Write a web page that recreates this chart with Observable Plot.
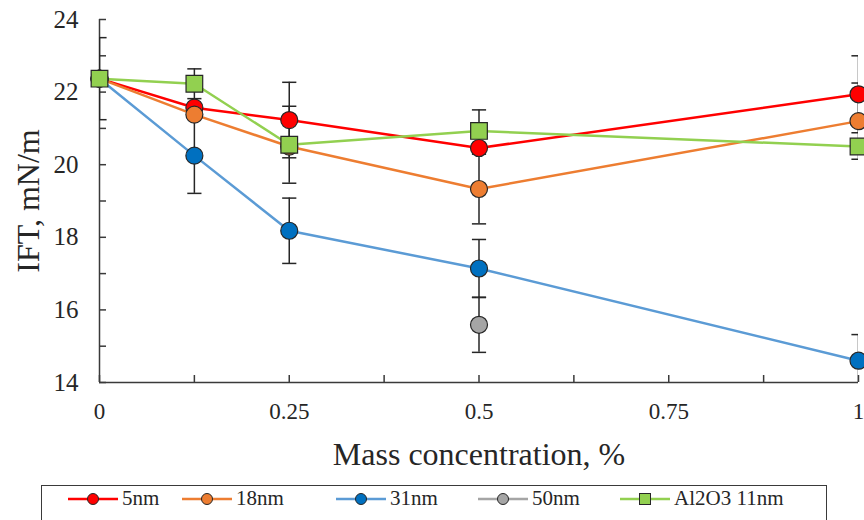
<!DOCTYPE html>
<html><head><meta charset="utf-8">
<script src="https://cdn.jsdelivr.net/npm/d3@7"></script>
<script src="https://cdn.jsdelivr.net/npm/@observablehq/plot@0.6"></script>
<style>
body{margin:0;background:#fff;width:864px;height:520px;overflow:hidden;position:relative;font-family:"Liberation Serif",serif;}
svg text{font-family:"Liberation Serif",serif !important;}
#legend{position:absolute;left:41px;top:485px;width:786px;height:60px;border:1.5px solid #3a3a3a;box-sizing:border-box;}
.item{position:absolute;top:0;height:25px;display:flex;align-items:center;font-size:21px;color:#262626;white-space:nowrap;}
.item svg{margin-right:4px;}
</style></head><body><div id="chart"></div><div id="legend"></div>
<script>
// ---- data ----
const conc = [0, 0.125, 0.25, 0.5, 1];
const seriesNames = ["5nm", "18nm", "31nm", "50nm", "Al2O3 11nm"];
const ift5  = [22.37, 21.57, 21.23, 20.46, 21.94];
const ift18 = [22.37, 21.38, 20.50, 19.33, 21.20];
const ift31 = [22.37, 20.25, 18.18, 17.14, 14.60];
const ift50 = [null, null, null, 15.59, null];
const iftAl = [22.37, 22.23, 20.55, 20.93, 20.50];
const err5  = [1.13, 0, 1.04, 0, 1.06];
const err18 = [0, 0, 0, 0.96, 1.05];
const err31 = [0, 1.04, 0.90, 0.80, 0.72];
const err50 = [null, null, null, 0.76, null];
const errAl = [0, 0.41, 1.06, 0.58, 0.10];
const lineColors = ["#FF0000", "#ED7D31", "#5B9BD5", "#A5A5A5", "#92D050"];
const fillColors = ["#FF0000", "#ED7D31", "#0070C0", "#A5A5A5", "#92D050"];
const symbols = ["circle", "circle", "circle", "circle", "square"];
const yTicks = [14, 15, 16, 17, 18, 19, 20, 21, 22, 23, 24];
const yLabels = [14, 16, 18, 20, 22, 24];
const xTicks = [0, 0.125, 0.25, 0.375, 0.5, 0.625, 0.75, 0.875, 1];
const xLabels = [0, 0.25, 0.5, 0.75, 1];
const xLabelText = ["0", "0.25", "0.5", "0.75", "1"];
const xTitle = "Mass concentration, %";
const yTitle = "IFT, mN/m";

const values = [ift5, ift18, ift31, ift50, iftAl];
const errs = [err5, err18, err31, err50, errAl];
const rows = [];
values.forEach((vals, si) => vals.forEach((v, j) => {
  if (v != null) rows.push({si, series: seriesNames[si], x: conc[j], y: v, err: errs[si][j] || 0});
}));
const errRows = rows.filter(d => d.err > 0);

const W = 864, H = 478, ML = 99, MR = 6, MT = 19, MB = 96;
const axisColor = "#3a3a3a";
const FF = "Liberation Serif";
const capSymbol = {draw(ctx, size) { const w = Math.sqrt(size); ctx.moveTo(-w, 0); ctx.lineTo(w, 0); }};

const chart = Plot.plot({
  width: W, height: H,
  marginLeft: ML, marginRight: MR, marginTop: MT, marginBottom: MB,
  style: {fontFamily: FF, background: "#fff", color: "#262626"},
  x: {domain: [0, 1]},
  y: {domain: [14, 24]},
  marks: [
    Plot.ruleX([0], {stroke: axisColor, strokeWidth: 1.5}),
    Plot.ruleY([14], {stroke: axisColor, strokeWidth: 1.5}),
    Plot.tickY(yTicks, {y: d => d, insetRight: W - ML - MR - 7, stroke: axisColor, strokeWidth: 1.5}),
    Plot.tickX(xTicks, {x: d => d, insetTop: H - MT - MB - 7, stroke: axisColor, strokeWidth: 1.5}),
    Plot.axisY(yLabels, {tickSize: 0, tickPadding: 21, fontSize: 25, fontFamily: FF, label: null}),
    Plot.axisX(xLabels, {tickSize: 0, tickPadding: 20, fontSize: 23, fontFamily: FF, tickFormat: d => xLabelText[xLabels.indexOf(d)], label: null}),
    Plot.text([xTitle], {frameAnchor: "bottom", dy: 72, text: d => d, fontSize: 32, fontFamily: FF, lineAnchor: "middle", textAnchor: "middle"}),
    Plot.text([yTitle], {frameAnchor: "left", dx: -71, rotate: -90, text: d => d, fontSize: 32, fontFamily: FF, lineAnchor: "middle", textAnchor: "middle"}),
    Plot.line(rows, {x: "x", y: "y", z: "series", stroke: d => lineColors[d.si], strokeWidth: 2.5}),
    Plot.ruleX(errRows, {x: "x", y1: d => d.y - d.err, y2: d => d.y + d.err, stroke: "#262626", strokeWidth: 1.5, clip: true}),
    Plot.dot(errRows, {x: "x", y: d => d.y + d.err, symbol: capSymbol, r: 4, stroke: "#262626", strokeWidth: 1.5, fill: "none", clip: true}),
    Plot.dot(errRows, {x: "x", y: d => d.y - d.err, symbol: capSymbol, r: 4, stroke: "#262626", strokeWidth: 1.5, fill: "none", clip: true}),
    Plot.dot(rows.filter(d => symbols[d.si] === "circle"), {x: "x", y: "y", r: 8.5, symbol: "circle", fill: d => fillColors[d.si], stroke: "#262626", strokeWidth: 1.2}),
    Plot.dot(rows.filter(d => symbols[d.si] === "square"), {x: "x", y: "y", r: 9.4, symbol: "square", fill: d => fillColors[d.si], stroke: "#262626", strokeWidth: 1.2})
  ]
});
document.getElementById("chart").appendChild(chart);

// ---- legend ----
const legendX = [26, 140, 294, 436, 578];
const legend = document.getElementById("legend");
seriesNames.forEach((name, i) => {
  const item = document.createElement("div");
  item.className = "item";
  item.style.left = legendX[i] + "px";
  const sw = d3.create("svg").attr("width", 50).attr("height", 20);
  sw.append("line").attr("x1", 0).attr("x2", 50).attr("y1", 10).attr("y2", 10).attr("stroke", lineColors[i]).attr("stroke-width", 2.5);
  if (symbols[i] === "square") sw.append("rect").attr("x", 19.5).attr("y", 4.5).attr("width", 11).attr("height", 11).attr("fill", fillColors[i]).attr("stroke", "#262626");
  else sw.append("circle").attr("cx", 25).attr("cy", 10).attr("r", 5.5).attr("fill", fillColors[i]).attr("stroke", "#262626");
  item.appendChild(sw.node());
  const t = document.createElement("span");
  t.textContent = name;
  item.appendChild(t);
  legend.appendChild(item);
});
</script></body></html>
